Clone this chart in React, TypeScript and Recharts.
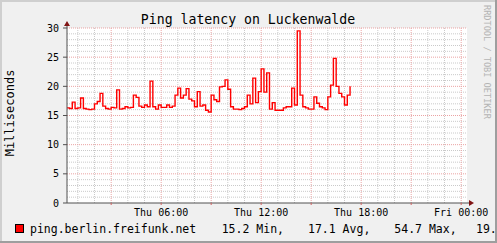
import { LineChart, Line, XAxis, YAxis, CartesianGrid, ReferenceLine, ReferenceDot } from "recharts";

// 10-minute samples starting Thu 00:20 (ms)
const startMinute = 20;
const stepMinutes = 10;
const latency = [
  16.3, 16.2, 17.3, 16.2, 16.3, 18.0, 16.2, 16.1, 16.0, 16.1,
  17.0, 17.4, 18.8, 16.6, 16.2, 16.1, 16.4, 16.3, 19.4, 16.1,
  16.2, 16.5, 16.3, 16.4, 18.5, 18.1, 16.6, 16.4, 16.8, 16.5,
  20.9, 16.5, 16.1, 16.8, 16.4, 16.4, 16.8, 16.4, 16.6, 18.5,
  19.7, 18.0, 18.5, 19.6, 17.8, 17.5, 16.5, 19.1, 16.6, 16.8,
  15.9, 15.6, 18.5, 17.7, 17.4, 19.9, 20.0, 21.1, 19.5, 16.5,
  16.1, 16.1, 16.0, 16.2, 16.5, 18.5, 17.0, 21.4, 17.2, 19.1,
  23.0, 19.0, 22.3, 16.1, 17.2, 15.9, 15.9, 15.9, 16.3, 16.5,
  16.5, 19.7, 16.8, 29.5, 18.5, 16.5, 16.3, 16.1, 16.1, 18.2,
  17.1, 16.5, 16.3, 16.0, 18.2, 20.2, 24.8, 20.0, 18.8, 18.2,
  16.8, 18.5, 20.0,
];

const yTicks = [0, 5, 10, 15, 20, 25, 30];
const xTicks = [3, 6, 9, 12, 15, 18, 21, 24];
const xTickLabels: Record<number, string> = {
  6: "Thu 06:00",
  12: "Thu 12:00",
  18: "Thu 18:00",
  24: "Fri 00:00",
};
const legendName = "ping.berlin.freifunk.net";
const legendStats = ["15.2 Min,", "17.1 Avg,", "54.7 Max,"];
const legendLast = "19.";

const xDomain = [0.35, 24.35];
const minorHours = Array.from({ length: 24 }, (_, i) => i + 1).filter(h => h % 3 !== 0);
const majorHours = xTicks;
const minorValues = Array.from({ length: 29 }, (_, i) => i + 1).filter(v => v % 5 !== 0);
const majorValues = yTicks.slice(1);

const data = latency.map((ms, i) => ({ hour: (startMinute + i * stepMinutes) / 60, ms }));

const mono = "DejaVu Sans Mono";
const minorGrid = "#cacaca";
const majorGrid = "#eba3a3";
const axisColor = "#505050";
const arrowColor = "#801414";

const ArrowRight = (p: any) => (
  <g>
    <line x1={p.cx} y1={p.cy} x2={p.cx + 2} y2={p.cy} stroke={axisColor} />
    <polygon points={`${p.cx + 2},${p.cy - 3} ${p.cx + 2},${p.cy + 3} ${p.cx + 7},${p.cy}`} fill={arrowColor} />
  </g>
);

const ArrowUp = (p: any) => (
  <g>
    <line x1={p.cx} y1={p.cy} x2={p.cx} y2={p.cy - 2} stroke={axisColor} />
    <polygon points={`${p.cx - 3},${p.cy - 2} ${p.cx + 3},${p.cy - 2} ${p.cx},${p.cy - 7}`} fill={arrowColor} />
  </g>
);

export default function App() {
  return (
    <div style={{ position: "absolute", left: 0, top: 0, width: 497, height: 243, background: "#f0f0f0", overflow: "hidden" }}>
      <LineChart width={497} height={243} data={data} margin={{ top: 28, right: 30, bottom: 20, left: 27 }}>
        <CartesianGrid horizontal={false} vertical={false} fill="#ffffff" fillOpacity={1} />
        {minorHours.map(h => (
          <ReferenceLine key={"vm" + h} x={h} stroke={minorGrid} strokeDasharray="1 1" />
        ))}
        {minorValues.map(v => (
          <ReferenceLine key={"hm" + v} y={v} stroke={minorGrid} strokeDasharray="1 1" />
        ))}
        {majorHours.map(h => (
          <ReferenceLine key={"vM" + h} x={h} stroke={majorGrid} strokeDasharray="1 1" />
        ))}
        {majorValues.map(v => (
          <ReferenceLine key={"hM" + v} y={v} stroke={majorGrid} strokeDasharray="1 1" />
        ))}
        <XAxis
          dataKey="hour"
          type="number"
          domain={xDomain}
          ticks={xTicks}
          allowDataOverflow
          height={20}
          tickSize={2}
          tickMargin={4}
          axisLine={{ stroke: axisColor }}
          tickLine={{ stroke: "#d06060" }}
          tickFormatter={(h: number) => xTickLabels[h] ?? ""}
          tick={{ fontFamily: mono, fontSize: 10, fill: "#000" }}
        />
        <YAxis
          type="number"
          domain={[0, 30]}
          ticks={yTicks}
          allowDataOverflow
          width={40}
          tickSize={4}
          tickMargin={4}
          axisLine={{ stroke: axisColor }}
          tickLine={{ stroke: axisColor }}
          tick={{ fontFamily: mono, fontSize: 10, fill: "#000" }}
        />
        <Line
          type="stepAfter"
          dataKey="ms"
          stroke="#ff0000"
          strokeWidth={1.4}
          dot={false}
          isAnimationActive={false}
        />
        <ReferenceDot x={xDomain[1]} y={0} ifOverflow="visible" shape={ArrowRight} />
        <ReferenceDot x={xDomain[0]} y={30} ifOverflow="visible" shape={ArrowUp} />
      </LineChart>
      <svg width={497} height={243} style={{ position: "absolute", left: 0, top: 0, pointerEvents: "none" }}>
        <text x={248} y={24} textAnchor="middle" fontFamily={mono} fontSize={13.2} fill="#000">
          Ping latency on Luckenwalde
        </text>
        <text
          x={0}
          y={0}
          transform="translate(14, 113) rotate(-90)"
          textAnchor="middle"
          fontFamily={mono}
          fontSize={12}
          fill="#000"
        >
          Milliseconds
        </text>
        <text
          x={0}
          y={0}
          transform="translate(484, 5) rotate(90)"
          textAnchor="start"
          fontFamily={mono}
          fontSize={8.6}
          fill="#b4b4b4"
        >
          RRDTOOL / TOBI OETIKER
        </text>
        <rect x={15.5} y={224.5} width={8} height={8} fill="#ff0000" stroke="#000" strokeWidth={1} />
        <text x={30} y={232.5} fontFamily={mono} fontSize={11.5} fill="#000">
          {legendName}
        </text>
        {legendStats.map((s, i) => (
          <text key={s} x={221.7 + i * 86.3} y={232.5} fontFamily={mono} fontSize={11.5} fill="#000">
            {s}
          </text>
        ))}
        <text x={476} y={232.5} fontFamily={mono} fontSize={11.5} fill="#000">
          {legendLast}
        </text>
        <rect x={0} y={0} width={497} height={2} fill="#cfcfcf" />
        <rect x={0} y={0} width={2} height={243} fill="#cfcfcf" />
        <rect x={0} y={241} width={497} height={2} fill="#9e9e9e" />
        <rect x={495} y={0} width={2} height={243} fill="#9e9e9e" />
      </svg>
    </div>
  );
}
